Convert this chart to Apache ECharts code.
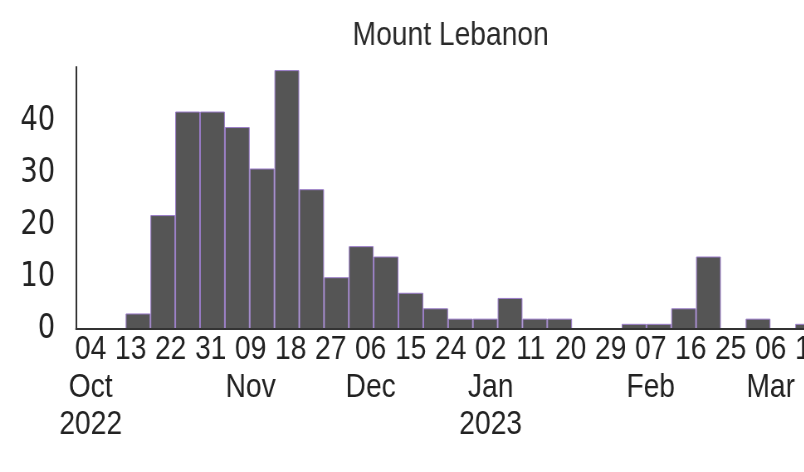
<!DOCTYPE html>
<html>
<head>
<meta charset="utf-8">
<script src="https://cdn.jsdelivr.net/npm/echarts@6/dist/echarts.min.js"></script>
<style>
html,body{margin:0;padding:0;background:#fff;overflow:hidden;}
#wrap{width:804px;height:472px;overflow:hidden;position:relative;}
#chart{width:969px;height:472px;position:absolute;left:0;top:0;transform:scaleX(0.83);transform-origin:0 0;}
</style>
</head>
<body>
<div id="wrap"><div id="chart"></div></div>
<script>
// Bin counts (one per bin, left to right)
const binLabels = ['b0','b1','b2','b3','b4','b5','b6','b7','b8','b9','b10','b11','b12','b13','b14','b15','b16','b17','b18','b19','b20','b21','b22','b23','b24','b25','b26','b27','b28','b29'];
const binCounts = [0,0,3,22,42,42,39,31,50,27,10,16,14,7,4,2,2,6,2,2,0,0,1,1,4,14,0,2,0,1];
// Date ticks (days after 04 Oct 2022)
const dayTicks = [0,9,18,27,36,45,54,63,72,81,90,99,108,117,126,135,144,153,162];
const dayLabels = ['04','13','22','31','09','18','27','06','15','24','02','11','20','29','07','16','25','06','15'];
const monthTicks = [0,36,63,90,126,153];
const monthLabels = ['Oct','Nov','Dec','Jan','Feb','Mar'];
const yearTicks = [0,90];
const yearLabels = ['2022','2023'];
const yTicks = [0,10,20,30,40];
const titleText = 'Mount Lebanon';

const sans = '"Liberation Sans",Arial,sans-serif';
const wide = '"DejaVu Sans","Liberation Sans",sans-serif';

function dateAxis(ticks, labels, margin) {
  return {
    type: 'value', position: 'bottom', min: -3.29, max: 164.1,
    axisLine: {show: false, onZero: false}, axisTick: {show: false}, splitLine: {show: false},
    axisLabel: {
      customValues: ticks,
      showMinLabel: true, showMaxLabel: true, hideOverlap: false,
      margin: margin,
      fontFamily: sans, fontSize: 34, lineHeight: 37.5, color: '#222',
      formatter: function (v) { const i = ticks.indexOf(Math.round(v)); return i >= 0 ? labels[i] : ''; }
    }
  };
}

const chart = echarts.init(document.getElementById('chart'));
chart.setOption({
  animation: false,
  backgroundColor: '#fff',
  title: {
    text: titleText,
    left: 538, top: 14, textAlign: 'center',
    textStyle: {fontFamily: sans, fontWeight: 'normal', fontSize: 34, color: '#2a2a2a'}
  },
  grid: {left: 91.6, top: 67, width: 896.4, height: 262, outerBoundsMode: 'none', containLabel: false},
  xAxis: [
    {
      type: 'category', data: binLabels, position: 'bottom', z: 10,
      axisLine: {show: true, onZero: false, lineStyle: {color: '#333', width: 2}},
      axisTick: {show: false}, axisLabel: {show: false}, splitLine: {show: false}
    },
    dateAxis(dayTicks, dayLabels, 2),
    dateAxis(monthTicks, monthLabels, 39.5),
    dateAxis(yearTicks, yearLabels, 77)
  ],
  yAxis: {
    type: 'value', min: 0, max: 50.6, z: 10,
    axisLine: {show: true, onZero: false, lineStyle: {color: '#333', width: 2}},
    axisTick: {show: false}, splitLine: {show: false},
    axisLabel: {customValues: yTicks, margin: 25, fontFamily: wide, fontSize: 33, color: '#222'}
  },
  series: [{
    type: 'bar', xAxisIndex: 0, data: binCounts, barCategoryGap: '0%',
    itemStyle: {color: '#555555', borderColor: '#9a7cc9', borderWidth: 1}
  }]
});
</script>
</body>
</html>
